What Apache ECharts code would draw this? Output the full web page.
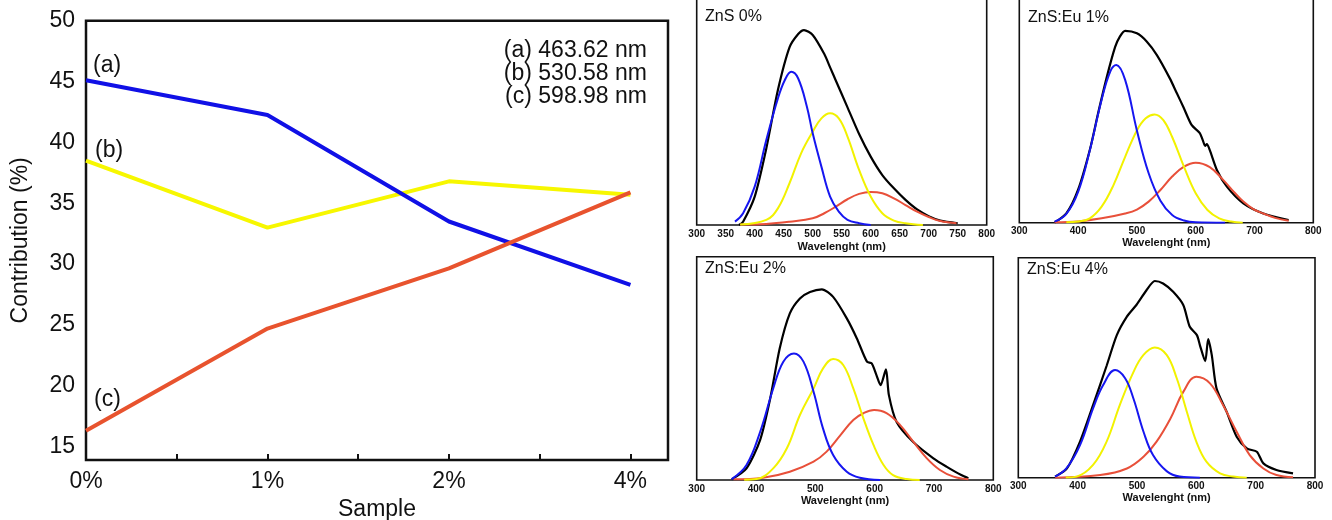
<!DOCTYPE html>
<html>
<head>
<meta charset="utf-8">
<script src="https://cdn.jsdelivr.net/npm/echarts@6/dist/echarts.min.js"></script>
<style>
html,body{margin:0;padding:0;background:#fff;}
#c{width:1332px;height:520px;}
</style>
</head>
<body>
<div id="c"></div>
<script>
// ---------- Left chart data ----------
const categories = ['0%', '1%', '2%', '4%'];
const seriesA = [45.1, 42.25, 33.5, 28.3];   // (a) 463.62 nm
const seriesB = [38.5, 33.0, 36.8, 35.7];    // (b) 530.58 nm
const seriesC = [16.3, 24.7, 29.65, 35.9];   // (c) 598.98 nm
const yTicks = [15, 20, 25, 30, 35, 40, 45, 50];
const peakLabels = ['(a) 463.62 nm', '(b) 530.58 nm', '(c) 598.98 nm'];
const seriesTags = ['(a)', '(b)', '(c)'];

// ---------- Right panels data ([wavelength nm, intensity a.u.]) ----------
const panelTitles = ['ZnS 0%', 'ZnS:Eu 1%', 'ZnS:Eu 2%', 'ZnS:Eu 4%'];
const xAxisTitle = 'Wavelenght (nm)';

const p0Black = [[373,0],[380,1.5],[400,12.8],[420,34.5],[440,60.8],[460,80],[475,86],[485,87.8],[500,85.6],[520,77],[530,71],[540,65],[560,53],[580,41],[600,30.8],[620,22.5],[640,16.5],[660,11.3],[680,7],[700,4],[720,2],[750,0.8]];
const p0Blue = [[366,1.5],[380,5.3],[400,17.3],[420,38.3],[440,57],[452,65.3],[463,69],[475,66],[490,53.3],[500,41.3],[515,26.3],[530,12.8],[545,6],[560,2.3],[580,0.8],[600,0]];
const p0Yellow = [[375,0.2],[420,2.3],[440,7.5],[460,18.8],[480,32.3],[500,42],[515,48],[530,50.3],[545,48],[560,39.8],[580,24.8],[600,12.8],[620,5.3],[640,2],[660,0.8],[690,0]];
const p0Red = [[375,0.2],[420,0.5],[460,1.5],[500,3],[520,5.3],[540,8.3],[560,11.6],[580,14],[600,14.9],[620,14.3],[640,12],[660,9],[680,6],[700,3.6],[720,1.8],[748,0.8]];

const p1Black = [[360,0],[380,4.2],[400,15],[420,33.2],[434,49.8],[449,66.5],[463,80],[471,84.7],[480,87.3],[500,86.2],[517,82.4],[534,76.3],[556,65.7],[568,58.9],[579,52.7],[593,44.5],[607,40.8],[612,37.6],[616,35],[619,35.8],[624,33],[636,24],[653,16.4],[681,8.8],[715,4.2],[758,1.2]];
const p1Blue = [[360,0.5],[380,4],[400,14],[420,33],[440,56],[455,69],[465,71.8],[480,65],[500,42],[520,22.5],[540,10],[560,3.5],[580,1],[600,0.2],[650,0]];
const p1Yellow = [[380,0.2],[400,0.5],[420,2],[440,7.3],[460,17],[480,30],[500,42],[515,47.5],[530,49.3],[545,46.7],[560,39],[580,25.5],[600,13.4],[620,5.8],[640,2],[660,0.5],[680,0]];
const p1Red = [[360,0.2],[400,0.6],[440,2],[480,4.2],[500,6],[520,9.6],[540,14.9],[560,21],[580,25.5],[600,27.3],[624,25.3],[647,19.4],[665,14],[681,9.6],[698,6.2],[715,4.2],[735,2.2],[758,0.9]];

const p2Black = [[359,0.3],[384,5.2],[407,18],[424,36.6],[440,59],[457,74.6],[474,81.3],[491,84.2],[511,85.4],[530,82],[553,72.4],[570,63.4],[587,53],[595,52.2],[603,47],[610,42.5],[619,49.5],[624,38],[637,26],[665,17],[699,9.7],[721,6],[746,2.2],[758,0.8]];
const p2Blue = [[359,0.4],[384,6.7],[407,21.6],[429,41],[446,53],[464,56.7],[480,53],[497,39.5],[513,23],[530,11.2],[553,3.7],[575,1],[609,0]];
const p2Yellow = [[380,0.1],[401,0.4],[429,5.2],[452,14.2],[474,29.1],[497,41],[513,50],[530,54.2],[547,51.5],[564,41],[581,27.6],[598,15.7],[615,6.7],[631,2.2],[654,0.4],[676,0]];
const p2Red = [[362,0.3],[412,1],[457,3.7],[497,8.2],[519,12.7],[542,20],[564,26.9],[581,29.9],[599,31.3],[620,29.9],[643,24.6],[665,17.2],[688,9.7],[710,4.5],[733,1.5],[758,0.3]];

const p3Black = [[362,0.5],[382,4.2],[404,16.4],[426,33],[449,51],[466,64.8],[483,73.2],[499,78.5],[516,85.2],[530,89.4],[544,88.3],[561,84.5],[578,78.5],[589,68.6],[601,64.8],[606,60.3],[615,53],[620,63],[626,55.8],[634,40.6],[651,30],[668,18.6],[685,13.3],[702,11.8],[713,6.5],[735,3.5],[763,2]];
const p3Blue = [[362,0.5],[381,4.2],[404,14.8],[426,31.5],[443,42.1],[463,48.9],[480,45.2],[494,36],[511,20.9],[527,10.3],[550,3],[572,0.5],[606,0]];
const p3Yellow = [[380,0.1],[398,0.5],[426,5.8],[449,16.5],[471,33],[494,48],[511,55.8],[530,59.2],[550,55.8],[567,45.2],[584,30],[600,16.4],[617,7.3],[640,2],[662,0.5],[685,0]];
const p3Red = [[362,0],[438,1.2],[483,4.2],[511,9.5],[533,16.4],[556,26.7],[578,39],[600,45.9],[623,42.9],[645,33],[668,20.9],[690,10.3],[713,4.2],[735,1.2],[763,0.2]];

const panelData = [
  [p0Black, p0Red, p0Yellow, p0Blue],
  [p1Black, p1Red, p1Yellow, p1Blue],
  [p2Black, p2Red, p2Yellow, p2Blue],
  [p3Black, p3Red, p3Yellow, p3Blue]
];

// ---------- Layout / style ----------
const FONT = '"Liberation Sans", Arial, sans-serif';
const colA = '#1010e6', colB = '#f7f700', colC = '#e8532e';
const curveColors = ['#000000', '#e8503a', '#f2f200', '#1616f0'];

const panelGrids = [
  {left: 696.7, top: -4, width: 290, height: 229},
  {left: 1019.3, top: -4, width: 294, height: 226.7},
  {left: 696.7, top: 256.7, width: 296.6, height: 223.3},
  {left: 1018.3, top: 257.7, width: 296.7, height: 220}
];
const panelYMax = [103.15, 103.2, 100, 100];
const panelXInterval = [50, 100, 100, 100];
const panelLabelMargin = [4, 4, 4, 4];
const panelNameGap = [16, 12, 15, 15];
const panelTitlePos = [[705, 17], [1028, 18], [705, 269], [1027, 270]];

const baseGrid = {show: true, borderColor: '#111', backgroundColor: 'transparent', containLabel: false, outerBoundsMode: 'none'};
const grids = [Object.assign({}, baseGrid, {left: 86, top: 20.7, width: 582, height: 439.3, borderWidth: 2.5})];
panelGrids.forEach(g => grids.push(Object.assign({}, baseGrid, {borderWidth: 1.6}, g)));

const xAxes = [{
  gridIndex: 0, type: 'value', min: 0, max: 3.207,
  axisLine: {show: false},
  splitLine: {show: false},
  axisTick: {show: true, inside: true, length: 6, customValues: [0, 0.5, 1, 1.5, 2, 2.5, 3], lineStyle: {color: '#111', width: 2}},
  axisLabel: {customValues: [0, 1, 2, 3], formatter: v => categories[Math.round(v)], fontSize: 23, fontFamily: FONT, color: '#111', margin: 10},
  name: 'Sample', nameLocation: 'middle', nameGap: 36,
  nameTextStyle: {fontSize: 23, fontFamily: FONT, color: '#111'}
}];
const yAxes = [{
  gridIndex: 0, type: 'value', min: 13.9, max: 50,
  axisLine: {show: false}, axisTick: {show: false}, splitLine: {show: false},
  axisLabel: {customValues: yTicks, fontSize: 23, fontFamily: FONT, color: '#111', margin: 11},
  name: 'Contribution (%)', nameLocation: 'middle', nameRotate: 90, nameGap: 54,
  nameTextStyle: {fontSize: 23, fontFamily: FONT, color: '#111'}
}];

panelGrids.forEach((g, i) => {
  xAxes.push({
    gridIndex: i + 1, type: 'value', min: 300, max: 800, interval: panelXInterval[i],
    axisLine: {show: false}, axisTick: {show: false}, splitLine: {show: false},
    axisLabel: {fontSize: 10, fontWeight: 'bold', fontFamily: FONT, color: '#111', margin: panelLabelMargin[i]},
    name: xAxisTitle, nameLocation: 'middle', nameGap: panelNameGap[i],
    nameTextStyle: {fontSize: 11, fontWeight: 'bold', fontFamily: FONT, color: '#111'}
  });
  yAxes.push({
    gridIndex: i + 1, type: 'value', min: 0, max: panelYMax[i],
    axisLine: {show: false}, axisTick: {show: false}, splitLine: {show: false}, axisLabel: {show: false}
  });
});

const series = [];
[[seriesB, colB], [seriesA, colA], [seriesC, colC]].forEach(([vals, col]) => {
  series.push({
    type: 'line', xAxisIndex: 0, yAxisIndex: 0, symbol: 'none', silent: true,
    data: vals.map((v, i) => [i, v]),
    lineStyle: {color: col, width: 4}
  });
});
panelData.forEach((curves, p) => {
  curves.forEach((d, k) => {
    series.push({
      type: 'line', xAxisIndex: p + 1, yAxisIndex: p + 1, symbol: 'none', silent: true,
      smooth: k === 0 ? 0.25 : 0.4,
      data: d,
      lineStyle: {color: curveColors[k], width: k === 0 ? 2.2 : 2}
    });
  });
});

const graphics = [];
peakLabels.forEach((t, i) => {
  graphics.push({type: 'text', x: 647, y: 51 + i * 23, style: {text: t, fontSize: 23, fontFamily: FONT, fill: '#111', align: 'right', verticalAlign: 'middle', textAlign: 'right', textVerticalAlign: 'middle'}});
});
const tagPos = [[93, 66], [95, 151], [94, 400]];
seriesTags.forEach((t, i) => {
  graphics.push({type: 'text', x: tagPos[i][0], y: tagPos[i][1], style: {text: t, fontSize: 23, fontFamily: FONT, fill: '#111', align: 'left', verticalAlign: 'middle', textAlign: 'left', textVerticalAlign: 'middle'}});
});
panelTitles.forEach((t, i) => {
  graphics.push({type: 'text', x: panelTitlePos[i][0], y: panelTitlePos[i][1], style: {text: t, fontSize: 16, fontFamily: FONT, fill: '#111', align: 'left', verticalAlign: 'middle', textAlign: 'left', textVerticalAlign: 'middle'}});
});

const chart = echarts.init(document.getElementById('c'), null, {renderer: 'canvas'});
chart.setOption({
  animation: false,
  backgroundColor: '#ffffff',
  grid: grids,
  xAxis: xAxes,
  yAxis: yAxes,
  series: series,
  graphic: graphics
});
</script>
</body>
</html>
